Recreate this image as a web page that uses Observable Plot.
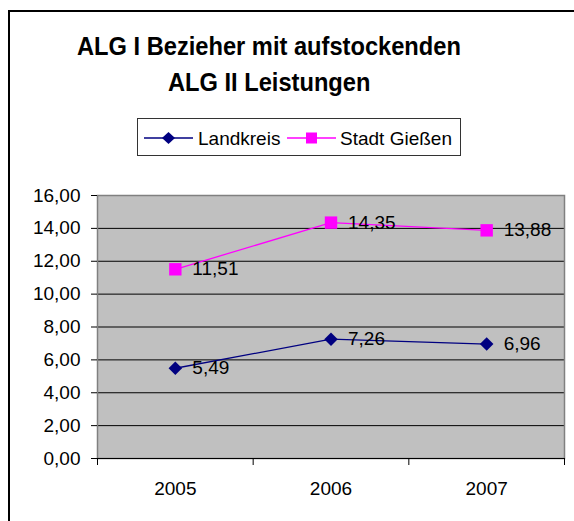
<!DOCTYPE html>
<html>
<head>
<meta charset="utf-8">
<script src="https://cdn.jsdelivr.net/npm/d3@7"></script>
<script src="https://cdn.jsdelivr.net/npm/@observablehq/plot@0.6"></script>
<style>
  html, body { margin: 0; padding: 0; background: #fff; overflow: hidden; }
  #wrap { position: relative; width: 574px; height: 521px; overflow: hidden; font-family: "Liberation Sans", Arial, sans-serif; }
  #outer { position: absolute; left: 8px; top: 10px; width: 700px; height: 700px; border-left: 2px solid #000; border-top: 2px solid #000; }
  #title { position: absolute; left: 0; top: 28px; width: 538px; text-align: center; font-weight: bold; font-size: 26px; line-height: 36px; color: #000; }
  #title span { display: inline-block; transform: scaleX(0.91); }
  #legend { position: absolute; left: 137px; top: 118px; }
  #chart { position: absolute; left: 0; top: 175px; }
</style>
</head>
<body>
<div id="wrap">
  <div id="outer"></div>
  <div id="title"><span>ALG I Bezieher mit aufstockenden</span><br><span>ALG II Leistungen</span></div>
  <div id="legend"></div>
  <div id="chart"></div>
</div>
<script>
const years = [2005, 2006, 2007];
const landkreis = [5.49, 7.26, 6.96];
const stadtGiessen = [11.51, 14.35, 13.88];
const seriesNames = ["Landkreis", "Stadt Gießen"];
const seriesColors = ["#000080", "#FF00FF"];
const yTicks = [0, 2, 4, 6, 8, 10, 12, 14, 16];

const fmt = v => v.toFixed(2).replace(".", ",");

const rows = [];
years.forEach((yr, i) => {
  rows.push({year: yr, value: landkreis[i], series: seriesNames[0]});
  rows.push({year: yr, value: stadtGiessen[i], series: seriesNames[1]});
});
const lk = rows.filter(d => d.series === seriesNames[0]);
const sg = rows.filter(d => d.series === seriesNames[1]);
const bounds = years.map(y => y - 0.5).concat([years[years.length - 1] + 0.5]);

const chart = Plot.plot({
  width: 574,
  height: 346,
  marginTop: 20,
  marginBottom: 63,
  marginLeft: 97,
  marginRight: 10,
  style: {fontFamily: "Liberation Sans, Arial, sans-serif", background: "transparent", color: "#000"},
  x: {type: "linear", domain: [years[0] - 0.5, years[years.length - 1] + 0.5], label: null},
  y: {domain: [0, 16], label: null},
  marks: [
    Plot.frame({fill: "#C0C0C0", stroke: "none"}),
    Plot.gridY(yTicks.filter(v => v > 0 && v < 16), {stroke: "#000", strokeOpacity: 1, strokeWidth: 1}),
    Plot.frame({stroke: "#808080", strokeWidth: 1.5}),
    Plot.ruleY([0], {stroke: "#000", strokeWidth: 1.2}),
    Plot.axisY(yTicks, {tickSize: 6, tickPadding: 11, fontSize: 19, tickFormat: fmt, stroke: "#000", label: null}),
    Plot.axisX(bounds, {tickSize: 7, tickFormat: () => "", stroke: "#000", label: null}),
    Plot.axisX(years, {tickSize: 0, tickPadding: 23, fontSize: 19, tickFormat: d => String(d), label: null}),
    Plot.line(lk, {x: "year", y: "value", stroke: seriesColors[0], strokeWidth: 1.3}),
    Plot.line(sg, {x: "year", y: "value", stroke: seriesColors[1], strokeWidth: 1.3}),
    Plot.dot(lk, {x: "year", y: "value", symbol: "diamond2", r: 6.1, fill: seriesColors[0], stroke: "none"}),
    Plot.dot(sg, {x: "year", y: "value", symbol: "square", r: 7, fill: seriesColors[1], stroke: "none"}),
    Plot.text(rows, {x: "year", y: "value", text: d => fmt(d.value), dx: 17, textAnchor: "start", fontSize: 19, fill: "#000"})
  ]
});
document.getElementById("chart").appendChild(chart);

// Legend
const legendW = 324, legendH = 38;
const lsvg = d3.create("svg").attr("width", legendW).attr("height", legendH)
  .style("font-family", "Liberation Sans, Arial, sans-serif");
lsvg.append("rect").attr("x", 0.5).attr("y", 0.5).attr("width", legendW - 1).attr("height", legendH - 1)
  .attr("fill", "#fff").attr("stroke", "#333").attr("stroke-width", 1);
const items = [
  {name: seriesNames[0], color: seriesColors[0], sym: "diamond", x0: 7, x1: 56, tx: 61},
  {name: seriesNames[1], color: seriesColors[1], sym: "square", x0: 150, x1: 199, tx: 203}
];
const cy = 20;
items.forEach(it => {
  lsvg.append("line").attr("x1", it.x0).attr("x2", it.x1).attr("y1", cy).attr("y2", cy)
    .attr("stroke", it.color).attr("stroke-width", 1.5);
  const cx = (it.x0 + it.x1) / 2;
  if (it.sym === "diamond") {
    lsvg.append("path").attr("d", `M${cx},${cy - 6}L${cx + 6.5},${cy}L${cx},${cy + 6}L${cx - 6.5},${cy}Z`).attr("fill", it.color);
  } else {
    lsvg.append("rect").attr("x", cx - 5.5).attr("y", cy - 5.5).attr("width", 11).attr("height", 11).attr("fill", it.color);
  }
  lsvg.append("text").attr("x", it.tx).attr("y", cy).attr("dy", "0.35em")
    .attr("font-size", 19).attr("fill", "#000").text(it.name);
});
document.getElementById("legend").appendChild(lsvg.node());
</script>
</body>
</html>
